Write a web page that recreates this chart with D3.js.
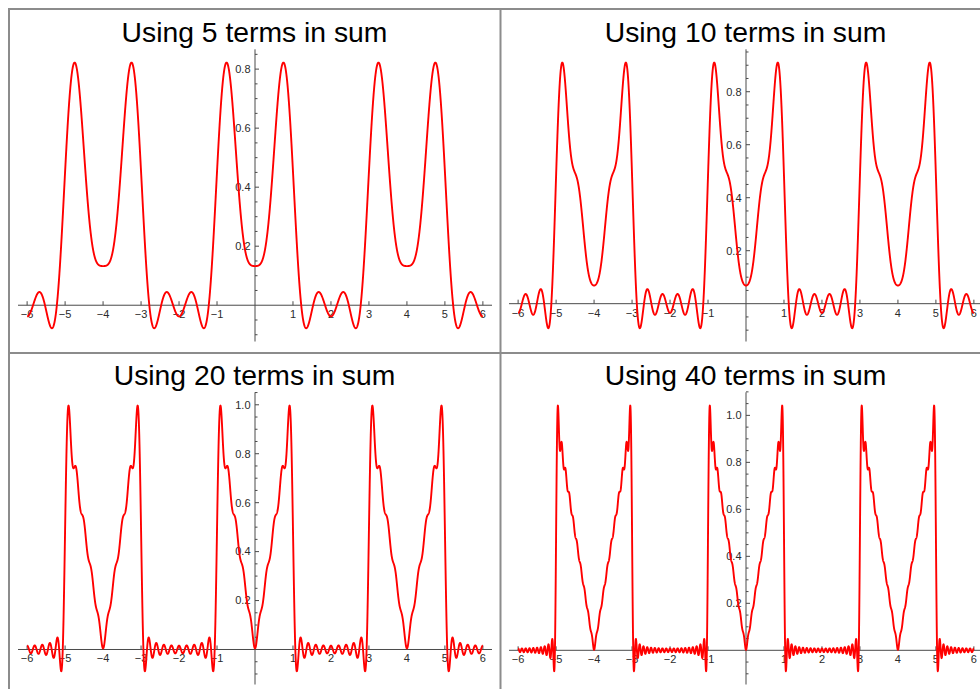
<!DOCTYPE html>
<html>
<head>
<meta charset="utf-8">
<script src="https://cdn.jsdelivr.net/npm/d3@7"></script>
<style>
  body { margin: 0; background: #fff; }
  svg { display: block; }
</style>
</head>
<body>
<svg id="chart" width="980" height="689"></svg>
<script>
// Partial Fourier sums of the period-4 wave f(x) = |x| on [-1,1], 0 on 1<|x|<2.

const TERM_COUNTS = [5, 10, 20, 40];
const TITLES = [
  "Using 5 terms in sum", "Using 10 terms in sum",
  "Using 20 terms in sum", "Using 40 terms in sum",
];

// constant term and cosine coefficients a1..a40 (cos(n·πx/2))
const A0 = 0.25;
const COS_COEFFS = [
  0.231335, -0.202642, -0.257239, 0,
  0.111113, -0.022516, -0.099217, 0,
  0.065732, -0.008106, -0.061224, 0,
  0.046573, -0.004136, -0.044242, 0,
  0.036046, -0.002502, -0.034629, 0,
  0.029396, -0.001675, -0.028445, 0,
  0.024817, -0.001199, -0.024135, 0,
  0.021470, -0.000901, -0.020958, 0,
  0.018920, -0.000701, -0.018520, 0,
  0.016910, -0.000561, -0.016590, 0,
];

const X_TICKS = [-6, -5, -4, -3, -2, -1, 1, 2, 3, 4, 5, 6];
const X_TICK_LABELS = ["−6", "−5", "−4", "−3", "−2", "−1", "1", "2", "3", "4", "5", "6"];
const Y_MAJOR = [
  [0.2, 0.4, 0.6, 0.8],
  [0.2, 0.4, 0.6, 0.8],
  [0.2, 0.4, 0.6, 0.8, 1.0],
  [0.2, 0.4, 0.6, 0.8, 1.0],
];

const W = 980, H = 689;
const PLOT_LEFT = [18, 509], PLOT_W = 474;
const ROW_TOP = [9, 352], PLOT_TOP_OFF = 40.3, PLOT_H = 292.2;
const X_PAD = 0.24;          // plot range padding on x
const Y_PAD = 0.05;          // fraction of y span
const FONT = "'Liberation Sans', Arial, sans-serif";
const AXIS_COLOR = "#4a4a4a";

const svg = d3.select("#chart");
svg.append("rect").attr("width", W).attr("height", H).attr("fill", "#fff");

const xs = d3.range(-6, 6.0001, 0.0025);

TERM_COUNTS.forEach((nTerms, i) => {
  const col = i % 2, row = Math.floor(i / 2);
  const left = PLOT_LEFT[col], top = ROW_TOP[row] + PLOT_TOP_OFF;

  const pts = xs.map((x) => {
    let y = A0;
    for (let n = 1; n <= nTerms; n++) y += COS_COEFFS[n - 1] * Math.cos(n * Math.PI * x / 2);
    return [x, y];
  });
  const [ymin, ymax] = d3.extent(pts, (d) => d[1]);
  const span = ymax - ymin;

  const x = d3.scaleLinear().domain([-6 - X_PAD, 6 + X_PAD]).range([left, left + PLOT_W]);
  const y = d3.scaleLinear().domain([ymin - Y_PAD * span, ymax + Y_PAD * span])
    .range([top + PLOT_H, top]);

  const g = svg.append("g");

  // title
  g.append("text")
    .attr("x", left + PLOT_W / 2 - 0.5).attr("y", ROW_TOP[row] + 32.5)
    .attr("text-anchor", "middle")
    .style("font", `28.3px ${FONT}`).style("fill", "#000")
    .text(TITLES[i]);

  const x0 = x(0), y0 = y(0);

  // x axis
  g.append("line").attr("x1", x.range()[0]).attr("x2", x.range()[1])
    .attr("y1", y0).attr("y2", y0)
    .attr("stroke", AXIS_COLOR).attr("stroke-width", 1);
  g.selectAll("line.xt").data(X_TICKS).enter().append("line").attr("class", "xt")
    .attr("x1", (d) => x(d)).attr("x2", (d) => x(d))
    .attr("y1", y0).attr("y2", y0 - 4)
    .attr("stroke", AXIS_COLOR).attr("stroke-width", 1);
  g.selectAll("text.xl").data(X_TICKS).enter().append("text").attr("class", "xl")
    .attr("x", (d) => x(d)).attr("y", y0 + 13)
    .attr("text-anchor", "middle")
    .style("font", `11px ${FONT}`).style("fill", "#2b2b2b")
    .text((d, j) => X_TICK_LABELS[j]);

  // y axis
  const [dlo, dhi] = y.domain();
  g.append("line").attr("x1", x0).attr("x2", x0)
    .attr("y1", y.range()[0]).attr("y2", y.range()[1])
    .attr("stroke", AXIS_COLOR).attr("stroke-width", 1);
  const minor = d3.range(-0.2, 1.2001, 0.05)
    .map((v) => Math.round(v * 100) / 100)
    .filter((v) => v >= dlo - 0.004 && v <= dhi + 0.004 && v !== 0
      && !Y_MAJOR[i].some((m) => Math.abs(m - v) < 1e-6));
  g.selectAll("line.ym").data(minor).enter().append("line").attr("class", "ym")
    .attr("x1", x0).attr("x2", x0 + 2.5)
    .attr("y1", (d) => y(d)).attr("y2", (d) => y(d))
    .attr("stroke", AXIS_COLOR).attr("stroke-width", 1);
  g.selectAll("line.yt").data(Y_MAJOR[i]).enter().append("line").attr("class", "yt")
    .attr("x1", x0).attr("x2", x0 + 4)
    .attr("y1", (d) => y(d)).attr("y2", (d) => y(d))
    .attr("stroke", AXIS_COLOR).attr("stroke-width", 1);
  g.selectAll("text.yl").data(Y_MAJOR[i]).enter().append("text").attr("class", "yl")
    .attr("x", x0 - 4.5).attr("y", (d) => y(d))
    .attr("dy", "0.35em")
    .attr("text-anchor", "end")
    .style("font", `11px ${FONT}`).style("fill", "#2b2b2b")
    .text(d3.format(".1f"));

  // curve
  g.append("path").datum(pts)
    .attr("d", d3.line().x((d) => x(d[0])).y((d) => y(d[1])))
    .attr("fill", "none").attr("stroke", "#ff0000")
    .attr("stroke-width", 1.9).attr("stroke-linejoin", "round");
});

// grid frame
const FRAME = "#8c8c8c";
[9, 500.5].forEach((gx) => svg.append("line")
  .attr("x1", gx).attr("x2", gx).attr("y1", 8).attr("y2", H)
  .attr("stroke", FRAME).attr("stroke-width", 2));
[9, 353].forEach((gy) => svg.append("line")
  .attr("x1", 8).attr("x2", W).attr("y1", gy).attr("y2", gy)
  .attr("stroke", FRAME).attr("stroke-width", 2));
</script>
</body>
</html>
